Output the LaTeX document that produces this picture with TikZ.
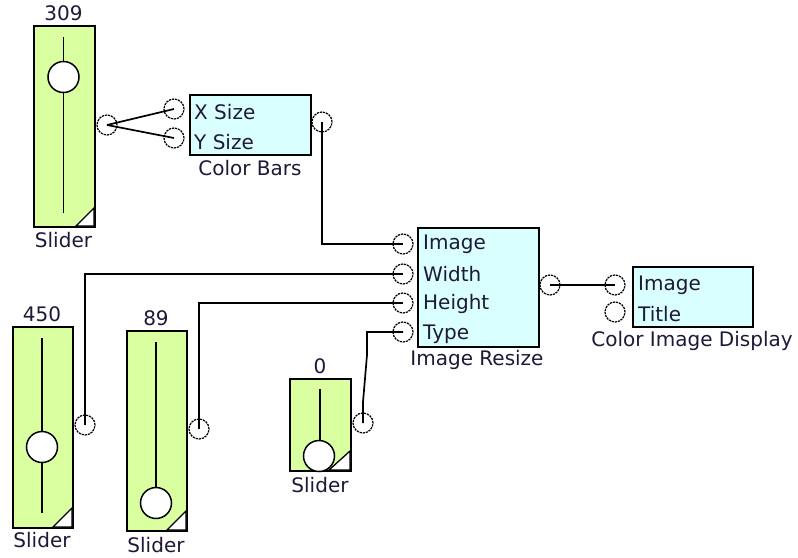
\documentclass[tikz,border=0pt]{standalone}
\usepackage{fontspec}
\setmainfont{DejaVu Sans}
\definecolor{sliderfill}{RGB}{218,255,160}
\definecolor{boxfill}{RGB}{218,255,255}
\definecolor{txt}{RGB}{30,25,55}
\begin{document}
\begin{tikzpicture}[x=1pt,y=-1pt,
  every node/.style={font=\fontsize{20}{22}\selectfont, text=txt},
  sliderbox/.style={draw=black, line width=1.8pt, fill=sliderfill, anchor=north west, inner sep=0},
  blockbox/.style={draw=black, line width=1.8pt, fill=boxfill, anchor=north west, inner sep=0},
  port/.style={circle, draw=black, line width=1.2pt, dash pattern=on 2.2pt off 0.9pt, minimum size=20pt, inner sep=0},
  knob/.style={circle, draw=black, line width=1.5pt, fill=white, minimum size=31pt, inner sep=0},
  track/.style={line width=1.7pt},
  wire/.style={line width=1.7pt},
  corner/.style={draw=black, line width=1.3pt, fill=white},
  lbl/.style={inner sep=0, anchor=center},
  txtl/.style={inner sep=0, anchor=west}
]
\useasboundingbox (0,0) rectangle (798,557);
\fill[white] (0,0) rectangle (798,557);

% ---------- Slider 309 ----------
\node[sliderbox, minimum width=61pt, minimum height=201pt] (s1) at (33,25) {};
\draw[track] (63.5,37) -- (63.5,213);
\node[knob] (k1) at (63.5,77) {};
\draw[corner] (94,226) -- (76,226) -- (94,208) -- cycle;
\node[lbl] (v1) at (63.5,13) {309};
\node[lbl] (n1) at (63.5,240) {Slider};
\node[port] (sp1) at (107,125) {};

% ---------- Slider 450 ----------
\node[sliderbox, minimum width=60pt, minimum height=201pt] (s2) at (12,326) {};
\draw[track] (42,338) -- (42,513);
\node[knob] (k2) at (42,447) {};
\draw[corner] (72,527) -- (53,527) -- (72,508) -- cycle;
\node[lbl] (v2) at (42,314) {450};
\node[lbl] (n2) at (42,540) {Slider};
\node[port] (sp2) at (85,425) {};

% ---------- Slider 89 ----------
\node[sliderbox, minimum width=60pt, minimum height=200pt] (s3) at (126,330) {};
\draw[track] (156,342) -- (156,500);
\draw[corner] (186,530) -- (167,530) -- (186,511) -- cycle;
\node[knob] (k3) at (156,503) {};
\node[lbl] (v3) at (156,318) {89};
\node[lbl] (n3) at (156,545) {Slider};
\node[port] (sp3) at (199,429) {};

% ---------- Slider 0 ----------
\node[sliderbox, minimum width=61pt, minimum height=92pt] (s4) at (289,378) {};
\draw[track] (320,389) -- (320,450);
\draw[corner] (350,470) -- (329,470) -- (350,451) -- cycle;
\node[knob] (k4) at (319,456) {};
\node[lbl] (v4) at (320,366) {0};
\node[lbl] (n4) at (320,485) {Slider};
\node[port] (sp4) at (363,423) {};

% ---------- Color Bars ----------
\node[blockbox, minimum width=121pt, minimum height=60pt] (cb) at (189,94) {};
\node[txtl] (cbt1) at (194,112) {X Size};
\node[txtl] (cbt2) at (194,142) {Y Size};
\node[lbl] (cbl) at (250,168) {Color Bars};
\node[port] (xs) at (174,109) {};
\node[port] (ys) at (174,138) {};
\node[port] (cbo) at (322,122) {};

% ---------- Image Resize ----------
\node[blockbox, minimum width=121pt, minimum height=119pt] (ir) at (417,227) {};
\node[txtl] (irt1) at (423,244) {Image};
\node[txtl] (irt2) at (423,274) {Width};
\node[txtl] (irt3) at (423,304) {Height};
\node[txtl] (irt4) at (423,334) {Type};
\node[lbl] (irl) at (477,360) {Image Resize};
\node[port] (ri1) at (403,244) {};
\node[port] (ri2) at (403,274) {};
\node[port] (ri3) at (403,303) {};
\node[port] (ri4) at (403,332) {};
\node[port] (rio) at (550,285) {};

% ---------- Color Image Display ----------
\node[blockbox, minimum width=120pt, minimum height=60pt] (cd) at (632,266) {};
\node[txtl] (cdt1) at (638,285) {Image};
\node[txtl] (cdt2) at (638,314) {Title};
\node[lbl] (cdl) at (692,341) {Color Image Display};
\node[port] (di1) at (615,285) {};
\node[port] (di2) at (615,312) {};

% ---------- wires ----------
\draw[wire] (sp1.center) -- (xs.center);
\draw[wire] (sp1.center) -- (ys.center);
\draw[wire] (cbo.center) |- (ri1.center);
\draw[wire] (rio.center) -- (di1.center);
\draw[wire] (sp2.center) |- (ri2.center);
\draw[wire] (sp3.center) |- (ri3.center);
\draw[wire] (sp4.center) -- ++(0,-21) -- ++(4,-47) |- (ri4.center);
\end{tikzpicture}
\end{document}
